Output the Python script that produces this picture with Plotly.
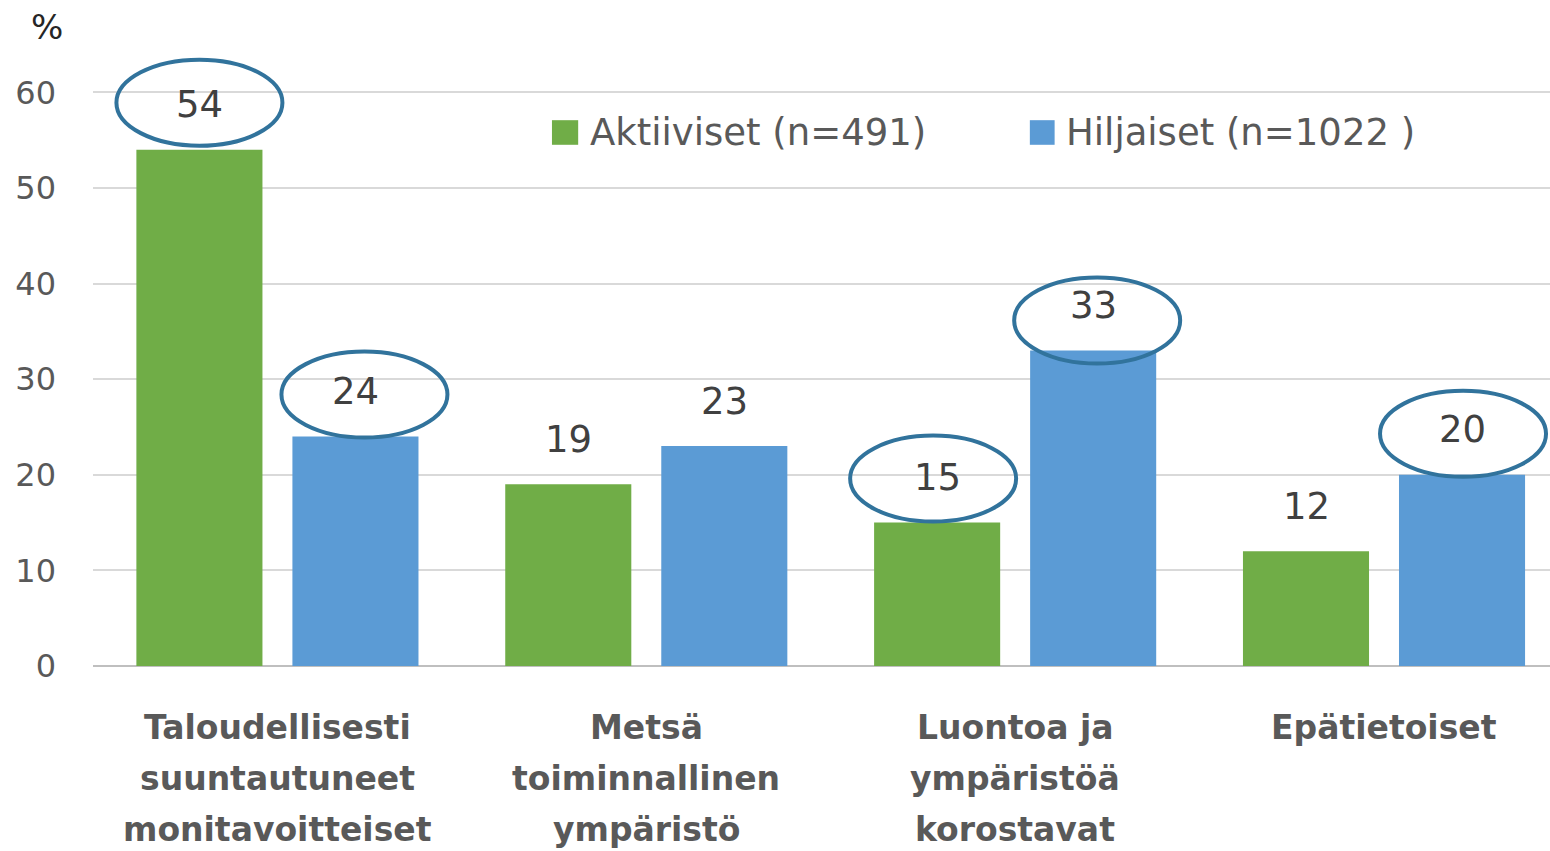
import plotly.graph_objects as go

categories = ["Taloudellisesti<br>suuntautuneet<br>monitavoitteiset",
              "Metsä<br>toiminnallinen<br>ympäristö",
              "Luontoa ja<br>ympäristöä<br>korostavat",
              "Epätietoiset"]
series_names = ["Aktiiviset (n=491)", "Hiljaiset (n=1022 )"]
aktiiviset = [54, 19, 15, 12]
hiljaiset = [24, 23, 33, 20]
# highlighted (circled) labels: (series index, category index)
highlighted = [(0, 0), (1, 0), (0, 2), (1, 2), (1, 3)]
y_ticks = [0, 10, 20, 30, 40, 50, 60]

# style: hand-drawn ellipse nudges in pixels (dx, dy up)
ellipse_nudge = [(0, 3), (9, -2), (-4, 0), (4, -14), (1, -3)]

colors = ["#70ad47", "#5b9bd5"]
values = [aktiiviset, hiljaiset]
FONT = "DejaVu Sans"

fig = go.Figure()
xidx = list(range(len(categories)))
for s in range(2):
    fig.add_trace(go.Bar(x=xidx, y=values[s], name=series_names[s],
                         marker=dict(color=colors[s], line=dict(width=0)),
                         showlegend=False, hoverinfo="y"))

bargap = 0.154
bargroupgap = 0.192
slot = (1 - bargap) / 2
offsets = [-slot / 2, slot / 2]

annotations = []
shapes = []
# data labels
for s in range(2):
    for i, v in enumerate(values[s]):
        annotations.append(dict(x=i + offsets[s], y=v, xref="x", yref="y",
                                text=str(v), showarrow=False, yanchor="middle",
                                yshift=45, font=dict(size=37, color="#404040",
                                                     family=FONT)))
# ellipses around highlighted labels
for (s, i), (dx, dy) in zip(highlighted, ellipse_nudge):
    v = values[s][i]
    shapes.append(dict(type="circle", xref="x", yref="y",
                       xsizemode="pixel", ysizemode="pixel",
                       xanchor=i + offsets[s], yanchor=v,
                       x0=-83 + dx, x1=83 + dx, y0=1 + dy, y1=87 + dy,
                       line=dict(color="#31739c", width=4)))

# category labels (one line per annotation)
for i, c in enumerate(categories):
    for k, line in enumerate(c.split("<br>")):
        annotations.append(dict(x=i, y=0, xref="x", yref="paper", text="<b>" + line + "</b>",
                                showarrow=False, yanchor="middle", yshift=-61 - 51 * k,
                                font=dict(size=33, color="#595959", family=FONT)))

# manual legend
leg_sq = [(0.315, 0.333), (0.643, 0.660)]
leg_tx = [0.3397, 0.6664]
for s in range(2):
    shapes.append(dict(type="rect", xref="paper", yref="paper",
                       x0=leg_sq[s][0], x1=leg_sq[s][1], y0=0.826, y1=0.865,
                       fillcolor=colors[s], line=dict(width=0)))
    annotations.append(dict(x=leg_tx[s], y=0.846, xref="paper", yref="paper",
                            text=series_names[s], showarrow=False, xanchor="left",
                            yanchor="middle", font=dict(size=37, color="#595959",
                                                         family=FONT)))

annotations.append(dict(x=-0.0316, y=1.0127, xref="paper", yref="paper", text="%",
                        showarrow=False, xanchor="center", yanchor="middle",
                        font=dict(size=34, color="#262626", family=FONT)))

fig.update_layout(
    width=1550, height=851,
    margin=dict(l=93, r=0, t=35, b=185),
    paper_bgcolor="white", plot_bgcolor="white",
    barmode="group", bargap=bargap, bargroupgap=bargroupgap,
    annotations=annotations, shapes=shapes,
    xaxis=dict(range=[-0.5, 3.45], showticklabels=False, showgrid=False,
               zeroline=False, showline=False, fixedrange=True),
    yaxis=dict(range=[0, 66], tickvals=y_ticks, showgrid=True, gridcolor="#d9d9d9",
               gridwidth=2, zeroline=True, zerolinecolor="#bfbfbf", zerolinewidth=2,
               tickfont=dict(size=32, color="#595959", family=FONT),
               ticklabelstandoff=36, showline=False, fixedrange=True),
    showlegend=False,
)
fig.write_html("out.html",
               config={"displayModeBar": False},
               post_script="document.body.style.margin='0';"
                           "document.documentElement.style.overflow='hidden';"
                           "document.body.style.overflow='hidden';")
